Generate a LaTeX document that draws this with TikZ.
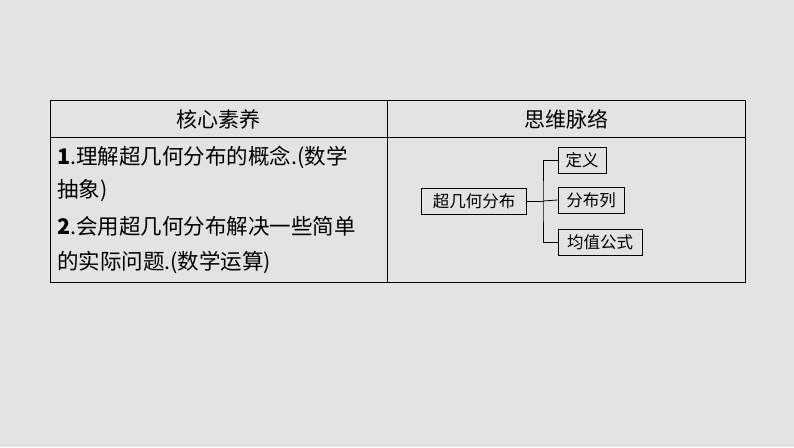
\documentclass[tikz,border=0pt]{standalone}
\usepackage{fontspec}
\newfontfamily\cjk{Noto Sans CJK SC}
\begin{document}
\begin{tikzpicture}[x=1pt,y=-1pt,
  txt/.style={font=\cjk\fontsize{21.5}{21.5}\selectfont, anchor=west, inner sep=0},
  hd/.style={font=\cjk\fontsize{21}{21}\selectfont, inner sep=0},
  bx/.style={draw, line width=0.8pt, font=\cjk\fontsize{16.5}{16.5}\selectfont, minimum height=26pt, inner sep=3pt},
  ln/.style={line width=0.8pt}]
\fill[gray!22] (0,0) rectangle (794,447);
\useasboundingbox (0,0) rectangle (794,447);
\draw[line width=1pt] (50,100) rectangle (745,282);
\draw[line width=1pt] (50,137) -- (745,137);
\draw[line width=1pt] (387,100) -- (387,282);
\node[hd] (h1) at (218,119) {核心素养};
\node[hd] (h2) at (566,119) {思维脉络};
\node[txt] (l1) at (57,157) {\textbf{1}.理解超几何分布的概念.(数学};
\node[txt] (l2) at (57,191) {抽象)};
\node[txt] (l3) at (57,226) {\textbf{2}.会用超几何分布解决一些简单};
\node[txt] (l4) at (57,262) {的实际问题.(数学运算)};
\node[bx, minimum width=105pt] (r) at (474,201) {超几何分布};
\node[bx, minimum width=48pt] (a) at (582,160) {定义};
\node[bx, minimum width=66pt] (b) at (591,200) {分布列};
\node[bx, minimum width=84pt] (c) at (600,242) {均值公式};
\coordinate (j) at (543,201);
\draw[ln] (r.east) -- (j);
\draw[ln] (a.west) -| (j) |- (c.west);
\draw[ln] (j) -- (b.west);
\end{tikzpicture}
\end{document}
